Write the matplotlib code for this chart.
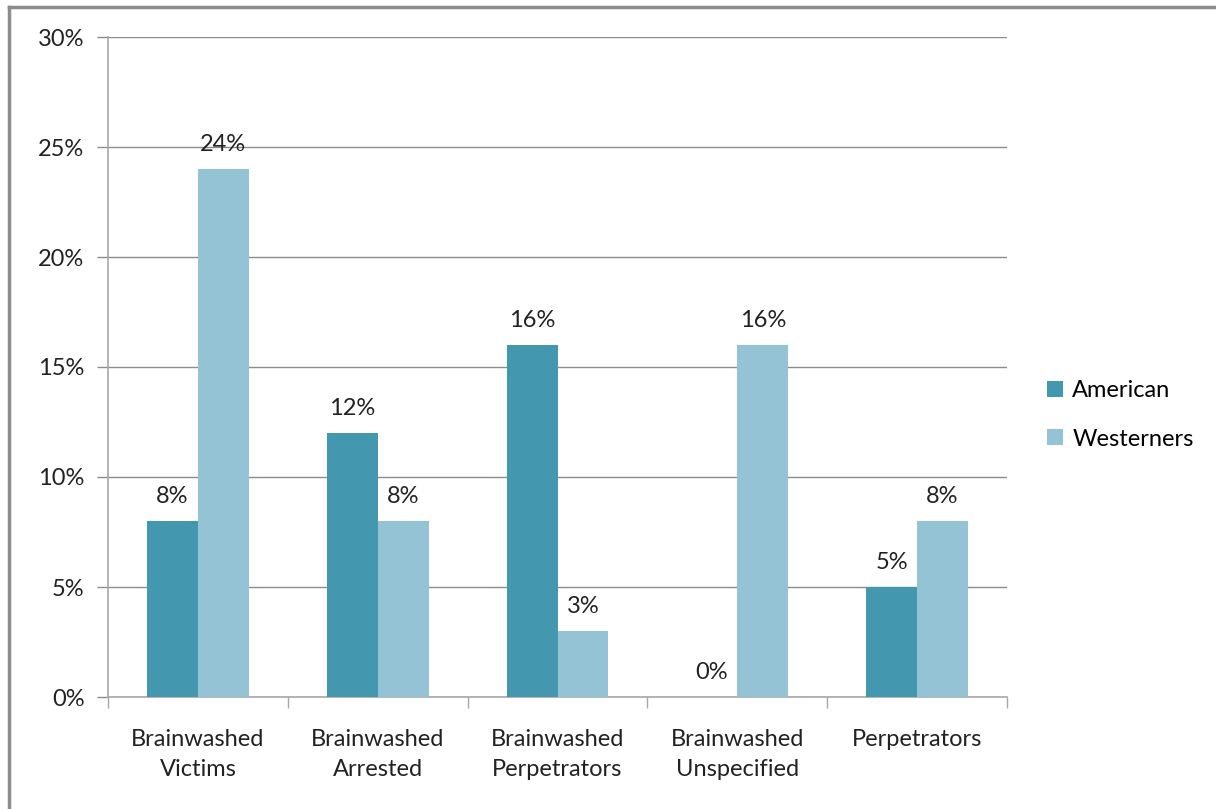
import matplotlib
matplotlib.use("Agg")
import matplotlib.pyplot as plt
from matplotlib.lines import Line2D
import numpy as np

categories = ["Brainwashed\nVictims", "Brainwashed\nArrested", "Brainwashed\nPerpetrators",
              "Brainwashed\nUnspecified", "Perpetrators"]
american = [8, 12, 16, 0, 5]
westerners = [24, 8, 3, 16, 8]
yticks = [0, 5, 10, 15, 20, 25, 30]

plt.rcParams['font.family'] = ['Lato', 'DejaVu Sans']
FS = 17
TC = "#222222"

fig = plt.figure(figsize=(12.16, 8.09), dpi=100)
ax = fig.add_axes([108/1216, 1-697/809, 899/1216, 660/809])

c_am = "#4398B0"
c_we = "#93C3D5"
x = np.arange(len(categories))
w = 0.283
b1 = ax.bar(x - w/2, american, w, color=c_am, label="American", zorder=3)
b2 = ax.bar(x + w/2, westerners, w, color=c_we, label="Westerners", zorder=3)

for bars, vals in ((b1, american), (b2, westerners)):
    for r, v in zip(bars, vals):
        ax.text(r.get_x() + r.get_width()/2, v + 0.65, f"{v}%", ha="center", va="bottom",
                fontsize=FS, color=TC)

ax.set_xlim(-0.5, len(categories) - 0.5)
ax.set_ylim(0, 30)
ax.set_yticks(yticks)
ax.set_yticklabels([f"{t}%" for t in yticks], fontsize=FS, color=TC)
ax.yaxis.grid(True, color="#8c8c8c", linewidth=1, zorder=0)
ax.set_axisbelow(True)

ax.set_xticks(np.arange(-0.5, len(categories)), minor=False)
ax.set_xticklabels([])
ax.set_xticks(x, minor=True)
ax.set_xticklabels(categories, minor=True, fontsize=FS, color=TC, linespacing=1.55)
ax.tick_params(axis="x", which="minor", length=0, pad=23)
ax.tick_params(axis="x", which="major", length=8, color="#a8a8a8", width=1)
ax.tick_params(axis="y", length=8, color="#8c8c8c", width=1, pad=9)

for s in ["top", "right"]:
    ax.spines[s].set_visible(False)
for s in ["left", "bottom"]:
    ax.spines[s].set_color("#a8a8a8")
    ax.spines[s].set_linewidth(1.2)

fig.legend(handles=[b1, b2], loc="upper left", bbox_to_anchor=(1038/1216, 1-371/809),
           frameon=False, fontsize=FS, handlelength=0.65, handleheight=0.65,
           handletextpad=0.4, labelspacing=1.15, borderaxespad=0)

# outer border (left and top edges only, as in the reference crop)
fig.add_artist(Line2D([9/1216, 9/1216], [0, 1-7/809], transform=fig.transFigure,
                      color="#8c8c8c", linewidth=2.5))
fig.add_artist(Line2D([9/1216, 1], [1-7/809, 1-7/809], transform=fig.transFigure,
                      color="#8c8c8c", linewidth=2.5))

fig.savefig("out.png", dpi=100)
